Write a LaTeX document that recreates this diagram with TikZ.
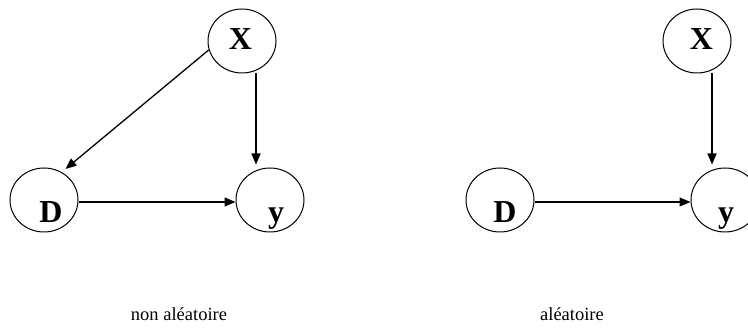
\documentclass[tikz,border=0pt]{standalone}
\usepackage{fontspec}
\setmainfont{Liberation Serif}
\usetikzlibrary{shapes.geometric, arrows.meta}
\tikzstyle{var} = [ellipse, draw=black, line width=1pt, minimum width=68pt, minimum height=64pt, inner sep=0pt]
\tikzstyle{lab} = [anchor=base, inner sep=0pt, font=\fontsize{32}{32}\selectfont\bfseries]
\tikzstyle{caption} = [anchor=base, inner sep=0pt, font=\fontsize{18.5}{18.5}\selectfont]
\tikzstyle{arrow} = [line width=1.3pt,-{Triangle[length=11pt,width=9pt]}]

\begin{document}
\begin{tikzpicture}[x=1pt,y=1pt]
    \useasboundingbox (0,0) rectangle (748,331);
    % non aleatoire
    \node (x1) [var] at (242,290) {};
    \node (d1) [var] at (44,131) {};
    \node (y1) [var] at (270,131) {};
    \node (x1l) [lab] at ([xshift=-1.5pt,yshift=-9pt]x1.center) {X};
    \node (d1l) [lab] at ([xshift=7pt,yshift=-23pt]d1.center) {D};
    \node (y1l) [lab] at ([xshift=6pt,yshift=-23pt]y1.center) {y};
    \node (cap1) [caption] at (179,10) {non aléatoire};

    \draw [arrow] (x1.195) -- ([shift={(4pt,3pt)}]d1.58);
    \draw [arrow] ([xshift=14pt]x1.south) -- ([xshift=-14pt,yshift=3pt]y1.north);
    \draw [arrow] ([yshift=-2pt]d1.east) -- ([yshift=-2pt]y1.west);

    % aleatoire
    \node (x2) [var] at (697,290) {};
    \node (d2) [var] at (500,131) {};
    \node (y2) [var] at (725,131) {};
    \node (x2l) [lab] at ([xshift=4.5pt,yshift=-9pt]x2.center) {X};
    \node (d2l) [lab] at ([xshift=5pt,yshift=-23pt]d2.center) {D};
    \node (y2l) [lab] at ([xshift=1pt,yshift=-23pt]y2.center) {y};
    \node (cap2) [caption] at (572,10) {aléatoire};

    \draw [arrow] ([xshift=15pt]x2.south) -- ([xshift=-13pt,yshift=3pt]y2.north);
    \draw [arrow] ([yshift=-2pt]d2.east) -- ([yshift=-2pt]y2.west);
\end{tikzpicture}
\end{document}
